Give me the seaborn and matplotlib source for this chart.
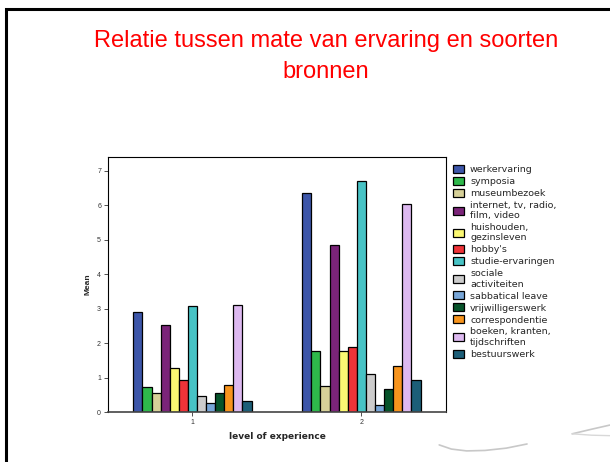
import matplotlib
matplotlib.use("Agg")
import matplotlib.pyplot as plt
import seaborn as sns
import pandas as pd
from matplotlib.patches import Rectangle
from matplotlib.lines import Line2D

# data
levels = ["1", "2"]
sources = [
    "werkervaring", "symposia", "museumbezoek", "internet, tv, radio,\nfilm, video",
    "huishouden,\ngezinsleven", "hobby's", "studie-ervaringen", "sociale\nactiviteiten",
    "sabbatical leave", "vrijwilligerswerk", "correspondentie",
    "boeken, kranten,\ntijdschriften", "bestuurswerk",
]
mean_level1 = [2.90, 0.72, 0.55, 2.52, 1.27, 0.92, 3.07, 0.48, 0.25, 0.55, 0.80, 3.10, 0.33]
mean_level2 = [6.35, 1.77, 0.77, 4.85, 1.78, 1.90, 6.72, 1.12, 0.20, 0.68, 1.35, 6.03, 0.92]
colors = [
    "#3d56a9", "#2eb84b", "#d6d098", "#7b2479", "#fbf872", "#ee3338", "#47c3c5",
    "#cccccc", "#78a6d8", "#06532a", "#f7941d", "#ddb9f0", "#1c5e78",
]

df = pd.DataFrame({
    "level": [lv for lv, vals in zip(levels, [mean_level1, mean_level2]) for _ in vals],
    "source": sources * 2,
    "mean": mean_level1 + mean_level2,
})

sns.set_style("white")
plt.rcParams["font.family"] = ["Liberation Sans", "DejaVu Sans"]

fig = plt.figure(figsize=(6.10, 4.62), dpi=100)
ax = fig.add_axes([0.177, 0.108, 0.554, 0.552])

sns.barplot(data=df, x="level", y="mean", hue="source", hue_order=sources,
            palette=colors, width=0.7, edgecolor="black", linewidth=0.9,
            saturation=1, ax=ax)

ax.set_xlim(-0.5, 1.5)
ax.set_ylim(0, 7.4)
ax.set_yticks(range(8))
ax.tick_params(axis="both", labelsize=5, length=3, width=0.6, colors="#333333",
               direction="out", pad=2)
ax.tick_params(left=True, bottom=True)
for sp in ax.spines.values():
    sp.set_color("black")
    sp.set_linewidth(0.8)
ax.spines["bottom"].set_linewidth(1.2)
ax.spines["bottom"].set_color("#444444")
ax.set_ylabel("Mean", fontsize=6, fontweight="bold", labelpad=4)
ax.set_xlabel("level of experience", fontsize=6.5, fontweight="bold", labelpad=4,
              family="DejaVu Sans")

handles, labels = ax.get_legend_handles_labels()
leg = ax.legend(handles, labels, loc="upper left", bbox_to_anchor=(1.01, 0.985),
                frameon=False, handlelength=1.2, handleheight=0.9,
                handletextpad=0.6, labelspacing=0.3, borderaxespad=0.0,
                prop={"family": "DejaVu Sans", "size": 6.8})

fig.text(0.534, 0.878, "Relatie tussen mate van ervaring en soorten\nbronnen",
         ha="center", va="center", color="red", fontsize=17, linespacing=1.55)

# slide frame and decoration
fig.add_artist(Rectangle((6 / 610, -0.1), 1.2, (462 - 9) / 462 + 0.1,
                         transform=fig.transFigure, fill=False,
                         edgecolor="black", linewidth=2.2))
fig.add_artist(Line2D([0.720, 0.740, 0.765, 0.795, 0.830, 0.864],
                      [0.037, 0.028, 0.024, 0.025, 0.030, 0.039],
                      transform=fig.transFigure, color="#c8c8c8", linewidth=1.2))
fig.add_artist(Line2D([0.938, 0.97, 1.0], [0.061, 0.071, 0.080],
                      transform=fig.transFigure, color="#c8c8c8", linewidth=1.2))
fig.add_artist(Line2D([0.938, 0.97, 1.0], [0.061, 0.058, 0.057],
                      transform=fig.transFigure, color="#d8d8d8", linewidth=1.0))

fig.savefig("out.png", dpi=100)
